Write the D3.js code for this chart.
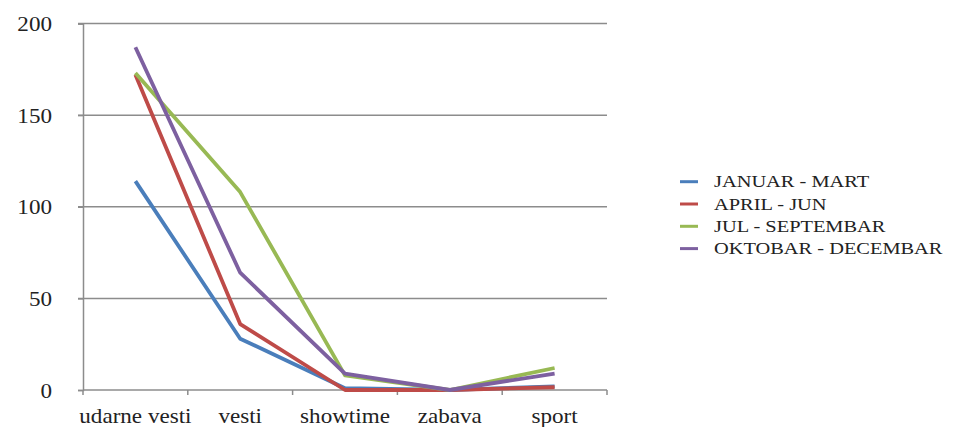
<!DOCTYPE html>
<html><head><meta charset="utf-8">
<script src="https://cdn.jsdelivr.net/npm/d3@7"></script>
<style>body{margin:0;background:#fff}svg{display:block}</style>
</head><body>
<svg id="c" width="954" height="427"></svg>
<script>
const categories = ["udarne vesti", "vesti", "showtime", "zabava", "sport"];
const seriesNames = ["JANUAR - MART", "APRIL - JUN", "JUL - SEPTEMBAR", "OKTOBAR - DECEMBAR"];
const janMar = [114, 28, 1, 0, 2];
const aprJun = [172, 36, 0, 0, 1.5];
const julSep = [173, 108, 8, 0, 12];
const oktDec = [187, 64, 9, 0, 9];
const yTicks = [0, 50, 100, 150, 200];
const colors = ["#4a7ebb", "#be4b48", "#98b954", "#7d60a0"];

(function () {
const series = [janMar, aprJun, julSep, oktDec];
const svg = d3.select("#c");
const mLeft = 83, mRight = 607, mTop = 23.5, mBottom = 390;
const x = d3.scaleBand().domain(categories).range([mLeft, mRight]);
const y = d3.scaleLinear().domain([0, 200]).range([mBottom, mTop]);
const FONT = '"Liberation Serif"';

// gridlines
svg.append("g").selectAll("line").data(yTicks.filter(d => d > 0)).join("line")
  .attr("x1", mLeft - 5).attr("x2", mRight)
  .attr("y1", d => y(d)).attr("y2", d => y(d))
  .attr("stroke", "#8c8c8c").attr("stroke-width", 1.5);

// y axis
const ya = svg.append("g").attr("transform", `translate(${mLeft},0)`)
  .call(d3.axisLeft(y).tickValues(yTicks).tickSize(5).tickPadding(26));
ya.attr("font-family", null).attr("font-size", null);
ya.select(".domain").attr("stroke", "#8c8c8c").attr("stroke-width", 1.5);
ya.selectAll(".tick line").attr("stroke", "#8c8c8c").attr("stroke-width", 1.5);
ya.selectAll("text").attr("x", 0).attr("transform", "translate(-31,0) scale(1.05,1)")
  .style("font-family", FONT).style("font-size", "22px").attr("fill", "#222");

// x axis
const xa = svg.append("g").attr("transform", `translate(0,${mBottom})`)
  .call(d3.axisBottom(x).tickSize(0).tickPadding(17.5));
xa.attr("font-family", null).attr("font-size", null);
xa.select(".domain").attr("stroke", "#8c8c8c").attr("stroke-width", 1.5)
  .attr("d", `M${mLeft},0H${mRight}`);
xa.selectAll("text").attr("transform", "scale(1.05,1)")
  .style("font-family", FONT).style("font-size", "22px").attr("fill", "#222");
const bounds = categories.map(c => x(c)).concat([mRight]);
xa.append("g").selectAll("line").data(bounds).join("line")
  .attr("x1", d => d).attr("x2", d => d).attr("y1", 0).attr("y2", 5)
  .attr("stroke", "#8c8c8c").attr("stroke-width", 1.5);

// lines
const line = d3.line().x((d, i) => x(categories[i]) + x.bandwidth() / 2).y(d => y(d));
svg.append("g").selectAll("path").data(series).join("path")
  .attr("d", d => line(d)).attr("fill", "none")
  .attr("stroke", (d, i) => colors[i]).attr("stroke-width", 3.8)
  .attr("stroke-linejoin", "round").attr("stroke-linecap", "butt");

// legend
const lg = svg.append("g").attr("transform", "translate(680,181.7)");
const items = lg.selectAll("g").data(seriesNames).join("g")
  .attr("transform", (d, i) => `translate(0,${i * 22.3})`);
items.append("line").attr("x1", 0).attr("x2", 18).attr("y1", 0).attr("y2", 0)
  .attr("stroke", (d, i) => colors[i]).attr("stroke-width", 3);
items.append("text").attr("transform", "translate(34,5.6) scale(1.2,1)").text(d => d)
  .style("font-family", FONT).style("font-size", "17px").attr("fill", "#222");
})();
</script>
</body></html>
